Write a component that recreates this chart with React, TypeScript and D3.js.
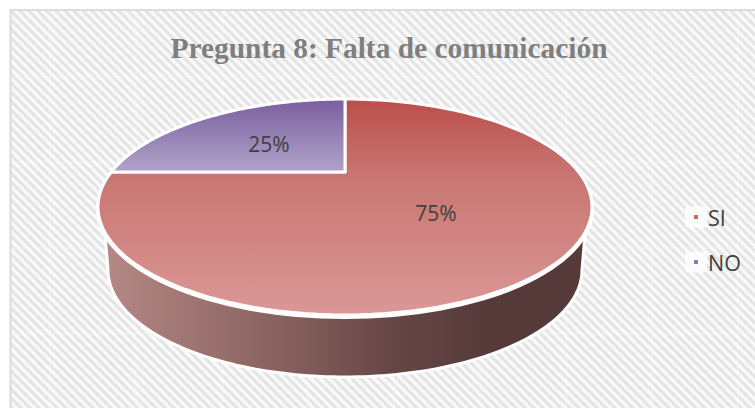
import React from "react";
import * as d3 from "d3";

const categories = ["SI", "NO"];
const values = [75, 25];
const labels = ["75%", "25%"];
const title = "Pregunta 8: Falta de comunicación";
const legendColors = ["#cf6a68", "#9277b5"];

const W = 755;
const H = 408;
const cx = 345;
const persp = 0.324;
const ya = -40.9;
const yb = 172;
const k = 233.7;

function project(angle: number, r = 1): [number, number] {
  const u = Math.sin(angle) * r;
  const v = Math.cos(angle) * r;
  const d = persp * v + 1;
  return [cx + (k * u) / d, (ya * v + yb) / d];
}

const pie = d3.pie<number>().value((d) => d).sort(null);
const arcs = pie(values);
const line = d3.line();

function slicePath(a0: number, a1: number) {
  const n = 120;
  const pts: [number, number][] = [project(0, 0)];
  d3.range(n + 1).forEach((i) => pts.push(project(a0 + ((a1 - a0) * i) / n)));
  return line(pts) + "Z";
}

const rimCy = 207;
const rimRx = 247;
const rimRy = 108;
const wallTopY = 230;
const wallBottomRx = 237;
const wallBottomRy = 107;
const wallBottomCy = 270;
const wallXs = d3.range(0, 121).map((i) => (i / 120) * Math.PI);

function wallPath() {
  const top: [number, number][] = wallXs.map((t) => [
    cx + rimRx * Math.cos(t),
    rimCy + rimRy * Math.sin(t),
  ]);
  const bot: [number, number][] = wallXs
    .map((t): [number, number] => [cx + wallBottomRx * Math.cos(t), wallBottomCy + wallBottomRy * Math.sin(t)])
    .reverse();
  const trimmedTop = top.filter(([, y]) => y >= wallTopY);
  const trimmedBot = bot.filter(([, y]) => y >= wallBottomCy);
  return line([...trimmedTop, ...trimmedBot]) + "Z";
}

const seamX = d3.range(0, 9).map((i) => 50 + i * 86);
const seamY = d3.range(0, 4).map((i) => 77 + i * 85.5);

const labelPos: [number, number][] = [
  [436, 214],
  [269, 145],
];
const legendY = [217, 262];
const legendTextY = [218, 263];

export default function App() {
  return (
    <svg
      width={W}
      height={H}
      style={{ position: "absolute", left: 0, top: 0, background: "#fff" }}
    >
      <defs>
        <pattern id="hatch" width="9" height="9" patternUnits="userSpaceOnUse">
          <rect width="9" height="9" fill="#f9f9f9" />
          <path d="M-2,-2 L11,11 M-11,-2 L2,11 M7,-2 L20,11" stroke="#e4e4e4" strokeWidth="3" fill="none" />
        </pattern>
        <linearGradient id="wall" gradientUnits="userSpaceOnUse" x1="100" x2="590" y1="0" y2="0">
          <stop offset="0" stopColor="#b58986" />
          <stop offset="0.35" stopColor="#8a6361" />
          <stop offset="0.6" stopColor="#654645" />
          <stop offset="0.8" stopColor="#553a39" />
          <stop offset="1" stopColor="#553a39" />
        </linearGradient>
        <linearGradient id="g0" gradientUnits="userSpaceOnUse" x1="0" x2="0" y1="99" y2="315">
          <stop offset="0" stopColor="#bb4e4b" />
          <stop offset="0.36" stopColor="#c97672" />
          <stop offset="1" stopColor="#da9896" />
        </linearGradient>
        <linearGradient id="g1" gradientUnits="userSpaceOnUse" x1="0" x2="0" y1="99" y2="172">
          <stop offset="0" stopColor="#7a5f9f" />
          <stop offset="1" stopColor="#b0a3c9" />
        </linearGradient>
      </defs>
      <rect x={10.5} y={10} width={W} height={H} fill="url(#hatch)" stroke="#dcdcdc" strokeWidth={2} />
      {seamX.map((x) => (
        <line key={x} x1={x} x2={x} y1={12} y2={H} stroke="#fff" strokeOpacity={0.4} />
      ))}
      {seamY.map((y) => (
        <line key={y} x1={12} x2={W} y1={y} y2={y} stroke="#fff" strokeOpacity={0.4} />
      ))}
      <text
        x={389}
        y={58}
        textAnchor="middle"
        fontFamily="'Liberation Serif', serif"
        fontWeight="bold"
        fontSize={29.4}
        fill="#7f7f7f"
      >
        {title}
      </text>
      <path d={wallPath()} fill="url(#wall)" stroke="#fff" strokeWidth={3} strokeLinejoin="round" />
      <ellipse cx={cx} cy={rimCy + 2} rx={rimRx + 2} ry={rimRy + 2} fill="#fff" />
      {arcs.map((a, i) => (
        <path
          key={categories[i]}
          d={slicePath(a.startAngle, a.endAngle)}
          fill={`url(#g${i})`}
          stroke="#fff"
          strokeWidth={3}
          strokeLinejoin="round"
        />
      ))}
      {labels.map((l, i) => (
        <text
          key={l}
          x={labelPos[i][0]}
          y={labelPos[i][1]}
          dy="0.35em"
          textAnchor="middle"
          fontFamily="'Open Sans', sans-serif"
          fontSize={21}
          fill="#404040"
        >
          {l}
        </text>
      ))}
      {categories.map((c, i) => (
        <g key={c}>
          <rect x={685} y={legendY[i] - 10.5} width={22} height={21} rx={3} fill="#fff" fillOpacity={0.8} />
          <rect x={694} y={legendY[i] - 2} width={4} height={4} fill={legendColors[i]} />
          <text
            x={708}
            y={legendTextY[i]}
            dy="0.35em"
            fontFamily="'Open Sans', sans-serif"
            fontSize={21.5}
            fill="#404040"
          >
            {c}
          </text>
        </g>
      ))}
    </svg>
  );
}
